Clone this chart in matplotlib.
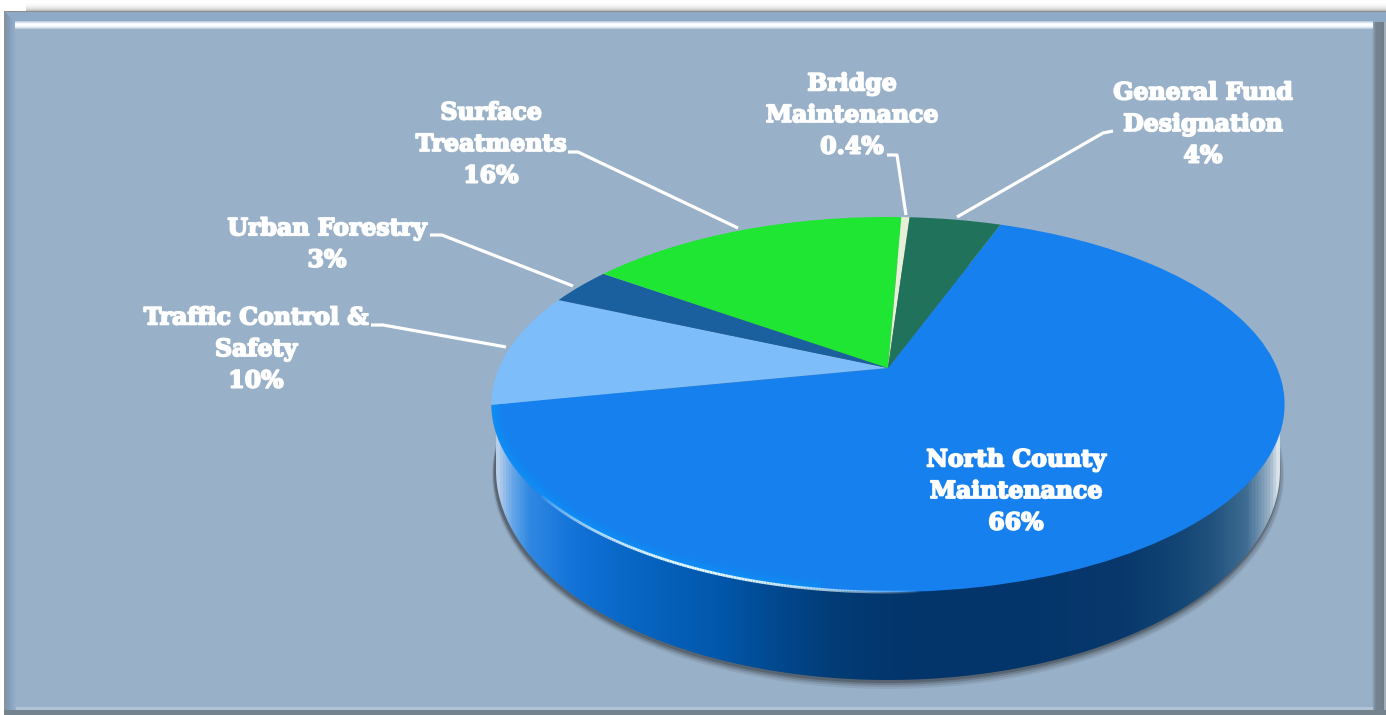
import numpy as np
import matplotlib
matplotlib.use("Agg")
import matplotlib.pyplot as plt
import matplotlib.transforms as mtransforms
import matplotlib.patheffects as pe
from matplotlib.colors import LinearSegmentedColormap
from matplotlib.patches import Rectangle, Polygon, Ellipse
from matplotlib.collections import LineCollection

# ---- data (clockwise from the upper right of the pie)
categories = ["North County\nMaintenance", "Traffic Control &\nSafety", "Urban Forestry",
              "Surface\nTreatments", "Bridge\nMaintenance", "General Fund\nDesignation"]
shares = [66.3, 9.8, 3.2, 15.8, 0.4, 4.5]
share_labels = ["66%", "10%", "3%", "16%", "0.4%", "4%"]
slice_colors = ["#1580EE", "#7DBEFA", "#1A609F", "#1EE632", "#E6F0D7", "#20735A"]
label_xy = [(1016, 490), (256, 348), (327, 243), (491, 143), (852, 114), (1203, 123)]
leaders = [None,
           [(371, 325), (383, 325), (506, 347)],
           [(430, 235), (442, 235), (573, 286)],
           [(568, 152), (578, 152), (738, 228)],
           [(887, 155), (897, 155), (906, 215)],
           [(1113, 131), (1103, 133), (957, 217)]]

W, H = 1386, 715
PANEL = "#98B0C8"


class TiltedDisc(mtransforms.Transform):
    """Projective map from the unit circle of the pie to picture pixels."""
    input_dims = output_dims = 2
    is_separable = False
    has_inverse = False
    cx, apex_y, a, c, r = 888.0, 368.0, -108.8, 0.1947, 389.0

    def transform_non_affine(self, values):
        u, v = np.asarray(values, float).T
        d = 1 + self.c * v
        return np.column_stack([self.cx + self.r * u / d, (self.a * v + self.apex_y) / d])


fig = plt.figure(figsize=(W / 100, H / 100), dpi=100, facecolor="white")
ax = fig.add_axes([0, 0, 1, 1])
wedges, _ = ax.pie(shares, colors=slice_colors, startangle=70, counterclock=False, radius=1)
ax.set_aspect("auto")
ax.set_xlim(0, W)
ax.set_ylim(H, 0)
ax.axis("off")


def grad(extent, colors, horizontal=True, z=1, clip=None):
    cmap = LinearSegmentedColormap.from_list("g", colors)
    arr = np.linspace(0, 1, 256)
    arr = arr[None, :] if horizontal else arr[:, None]
    im = ax.imshow(arr, cmap=cmap, extent=extent, aspect="auto", zorder=z, interpolation="bilinear")
    if clip is not None:
        im.set_clip_path(clip)
    return im


# ---- panel with bevel
grad((26, W, 11, 3), ["#FFFFFF", "#F6F6F6", "#E4E4E4", "#B8B8B8"], horizontal=False, z=0.5)
ax.add_patch(Rectangle((4, 11), W - 4, H - 11, fc=PANEL, ec="none", zorder=1))
grad((4, 16, H, 11), ["#8F8F8F", "#7F9AB8", "#8CA6C2", PANEL], z=1.1)
grad((1372, 1384, H, 11), [PANEL, "#74828F", "#74828F", "#6F7D8A"], z=1.1)
ax.add_patch(Rectangle((1384, 11), 2, H - 11, fc="#A4AEB8", ec="none", zorder=1.1))
ax.add_patch(Rectangle((4, 10.5), W - 4, 1.6, fc="#8C8C8C", ec="none", zorder=1.3))
ax.add_patch(Rectangle((16, 706.5), 1357, 3.5, fc="#B0C2D6", ec="none", zorder=1.2))
ax.add_patch(Rectangle((4, 710), W - 4, 5, fc="#75838F", ec="none", zorder=1.2))
ax.add_patch(Polygon([(5, 12), (W, 12), (W, 22), (15, 22)], fc="#8FAAC6", ec="none", zorder=1.2))
grad((15, 1373, 29, 21), ["#A8C0D8", "#FFFFFF", "#F6FBFF", "#B0C6DC"], horizontal=False, z=1.3)

# ---- side of the disc
CX, BOT_Y, BOT_RX, BOT_RY = 888, 470, 392, 210
t = np.linspace(0, np.pi, 300)
arc = np.column_stack([CX + BOT_RX * np.cos(t), BOT_Y + BOT_RY * np.sin(t)])
for k, (dx, dy, grow, alpha) in enumerate([(0, 5, 4, .10), (0, 4, 3, .16), (-1, 3, 2, .26), (-1, 2, 1, .4)]):
    ax.add_patch(Ellipse((CX + dx, BOT_Y + dy), 2 * (BOT_RX + grow), 2 * (BOT_RY + grow),
                         fc="#3A3F45", ec="none", alpha=alpha, zorder=1.6 + k * .01))
side = Polygon(np.vstack([[(1280, 390)], arc, [(496, 390)]]), closed=True, fc="none", ec="none",
               transform=ax.transData)
ax.add_patch(side)
side_cols = ["#B8CFEA", "#6AA8E8", "#3088E2", "#1272D8", "#0866C4", "#0258AC", "#01488E", "#023C76",
             "#03356B", "#04356A", "#08386C", "#124474", "#23547F", "#3F6C92", "#9CB4C8", "#D8E2EA"]
side_pos = [0, .018, .04, .10, .17, .28, .36, .43, .52, .66, .8, .87, .92, .96, .99, 1]
cmap_side = LinearSegmentedColormap.from_list("side", list(zip(side_pos, side_cols)))
im = ax.imshow(np.linspace(0, 1, 800)[None, :], cmap=cmap_side, extent=(496, 1280, 690, 390),
               aspect="auto", zorder=2, interpolation="bilinear")
im.set_clip_path(side)

# ---- top face, drawn by the pie through the tilted-disc transform
disc = TiltedDisc() + ax.transData
for w in wedges:
    w.set_transform(disc)
    w.set_edgecolor("none")
    w.set_zorder(3)
    w.set_clip_on(False)

# soft bevel and highlight along the front rim
def rim(a0, a1, n=120):
    a = np.radians(np.linspace(a0, a1, n))
    return np.column_stack([np.cos(a), np.sin(a)])

nc = wedges[0]
for lw, al in [(14, .10), (9, .14), (5, .2)]:
    line, = ax.plot(*rim(185, 262).T, color="#0AA0FF", lw=lw, alpha=al, transform=disc, zorder=3.1,
                    solid_capstyle="butt")
    line.set_clip_path(nc)
pts = rim(218, 274, 160)
proj = TiltedDisc().transform(pts)
segs = np.stack([proj[:-1], proj[1:]], axis=1)
w_alpha = np.sin(np.linspace(0, np.pi, len(segs))) ** 0.7
cols = np.ones((len(segs), 4))
cols[:, 0] = .9; cols[:, 1] = .98; cols[:, 3] = w_alpha
ax.add_collection(LineCollection(segs, colors=cols, linewidths=2.0, zorder=3.2))

# ---- labels and leader lines
for name, lab, (x, y), lead in zip(categories, share_labels, label_xy, leaders):
    ax.text(x, y + 1, f"{name}\n{lab}", color="white", ha="center", va="center", ma="center",
            fontsize=17, family="DejaVu Serif", fontweight="bold", linespacing=1.4, zorder=5,
            path_effects=[pe.withStroke(linewidth=1.3, foreground="white")])
    if lead is not None:
        ax.plot(*zip(*lead), color="white", lw=2.3, zorder=4, solid_joinstyle="round",
                solid_capstyle="butt")

ax.set_xlim(0, W)
ax.set_ylim(H, 0)
fig.savefig("out.png", dpi=100, facecolor="white")
